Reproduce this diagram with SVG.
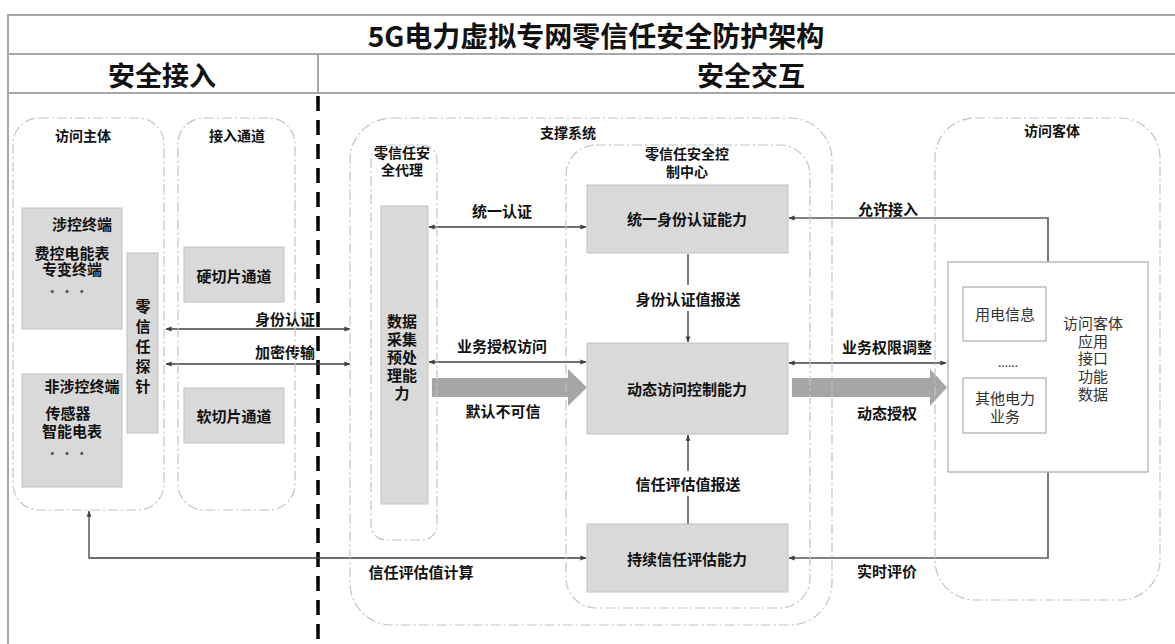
<svg xmlns="http://www.w3.org/2000/svg" width="1175" height="644" viewBox="0 0 1175 644">
<style>
text{font-family:"Noto Sans CJK SC","Noto Sans",sans-serif;dominant-baseline:central;text-anchor:middle;fill:#111}
.b{font-weight:700;font-size:14px}
.c{font-weight:700;font-size:15px}
.t{font-weight:700;font-size:15px}
.n{font-weight:400;font-size:15px;fill:#333}
.h{font-weight:700;font-size:27px}
.frame{stroke:#a8a8a8;stroke-width:2;fill:none}
.cont{fill:none;stroke:#c4c4c4;stroke-width:1.2;stroke-dasharray:10 3 2 3}
.g{fill:#d9d9d9;stroke:#c2c2c2;stroke-width:1}
.w{fill:#fff;stroke:#b3b3b3;stroke-width:1.3}
.ln{fill:none;stroke:#404040;stroke-width:1.3}
.lv{fill:none;stroke:#595959;stroke-width:1.6}
.blk{fill:#a6a6a6}
</style>
<defs>
<marker id="ah" viewBox="0 0 8 8" refX="7.5" refY="4" markerWidth="6" markerHeight="6" markerUnits="userSpaceOnUse" orient="auto-start-reverse">
<path d="M0,0.8 L8,4 L0,7.2 Z" fill="#404040"/>
</marker>
</defs>
<rect width="1175" height="644" fill="#fff"/>
<g id="frame">
<line class="frame" x1="8" y1="15" x2="1175" y2="15"/>
<line class="frame" x1="8" y1="54" x2="1175" y2="54"/>
<line class="frame" x1="8" y1="93" x2="1175" y2="93"/>
<line class="frame" x1="8" y1="14" x2="8" y2="644"/>
<line class="frame" x1="318" y1="54" x2="318" y2="93"/>
<line x1="318" y1="96" x2="318" y2="644" stroke="#000" stroke-width="3.5" stroke-dasharray="15 9"/>
<text class="h" x="596" y="35" style="font-size:28px">5G电力虚拟专网零信任安全防护架构</text>
<text class="h" x="162" y="74">安全接入</text>
<text class="h" x="751" y="74">安全交互</text>
</g>
<g id="connectors">
<polygon class="blk" points="432,378 568,378 568,369 587,387.5 568,406 568,397 432,397"/>
<polygon class="blk" points="792,378 930,378 930,369 947,387.5 930,406 930,397 792,397"/>
<line class="ln" x1="166" y1="329" x2="350" y2="329" marker-start="url(#ah)" marker-end="url(#ah)"/>
<line class="ln" x1="166" y1="364" x2="350" y2="364" marker-start="url(#ah)" marker-end="url(#ah)"/>
<line class="ln" x1="429" y1="227" x2="586" y2="227" marker-start="url(#ah)" marker-end="url(#ah)"/>
<line class="ln" x1="429" y1="362" x2="586" y2="362" marker-start="url(#ah)" marker-end="url(#ah)"/>
<line class="ln" x1="789" y1="363" x2="946" y2="363" marker-start="url(#ah)" marker-end="url(#ah)"/>
<line class="lv" x1="688" y1="254" x2="688" y2="285"/>
<line class="lv" x1="688" y1="311" x2="688" y2="342" marker-end="url(#ah)"/>
<line class="lv" x1="688" y1="524" x2="688" y2="496"/>
<line class="lv" x1="688" y1="471" x2="688" y2="435" marker-end="url(#ah)"/>
<polyline class="lv" points="1048,262 1048,218 789,218" marker-end="url(#ah)"/>
<polyline class="lv" points="1048,472 1048,558 789,558" marker-end="url(#ah)"/>
<polyline class="ln" points="89,511 89,558 586,558" marker-start="url(#ah)" marker-end="url(#ah)"/>
<text class="c" x="315" y="318" style="text-anchor:end">身份认证</text>
<text class="c" x="315" y="351" style="text-anchor:end">加密传输</text>
<text class="c" x="502" y="210">统一认证</text>
<text class="c" x="502" y="345">业务授权访问</text>
<text class="c" x="503" y="410">默认不可信</text>
<text class="c" x="688" y="298">身份认证值报送</text>
<text class="c" x="688" y="483">信任评估值报送</text>
<text class="c" x="421" y="571">信任评估值计算</text>
<text class="c" x="888" y="208">允许接入</text>
<text class="c" x="887" y="346">业务权限调整</text>
<text class="c" x="887" y="412">动态授权</text>
<text class="c" x="887" y="570">实时评价</text>
</g>
<g id="access-subject">
<rect class="cont" x="13" y="118" width="151" height="392" rx="26"/>
<text class="b" x="83" y="135">访问主体</text>
</g>
<g id="controlled-terminal">
<rect class="g" x="22" y="208" width="100" height="121"/>
<text class="t" x="82" y="223">涉控终端</text>
<text class="t" x="72" y="252">费控电能表<tspan x="72" dy="16">专变终端</tspan><tspan x="67" dy="23" style="font-size:12px;fill:#555">•  •  •</tspan></text>
</g>
<g id="noncontrolled-terminal">
<rect class="g" x="22" y="374" width="100" height="113"/>
<text class="t" x="82" y="385">非涉控终端</text>
<text class="t" x="68" y="412">传感器<tspan x="72" dy="18">智能电表</tspan><tspan x="67" dy="23" style="font-size:12px;fill:#555">•  •  •</tspan></text>
</g>
<g id="probe">
<rect class="g" x="127" y="253" width="31" height="180"/>
<text class="t" x="143" y="299" writing-mode="vertical-rl" style="text-anchor:start;letter-spacing:5px">零信任探针</text>
</g>
<g id="access-channel">
<rect class="cont" x="178" y="118" width="117" height="392" rx="26"/>
<text class="b" x="237" y="135">接入通道</text>
</g>
<g id="hard-slice">
<rect class="g" x="184" y="247" width="100" height="55"/>
<text class="t" x="234" y="275">硬切片通道</text>
</g>
<g id="soft-slice">
<rect class="g" x="184" y="388" width="100" height="55"/>
<text class="t" x="234" y="415">软切片通道</text>
</g>
<g id="support-system">
<rect class="cont" x="350" y="118" width="482" height="507" rx="42"/>
<text class="b" x="568" y="132">支撑系统</text>
</g>
<g id="zt-proxy">
<rect class="cont" x="371" y="145" width="66" height="395" rx="15"/>
<text class="b" x="402" y="152">零信任安<tspan x="402" dy="17">全代理</tspan></text>
</g>
<g id="data-collect">
<rect class="g" x="381" y="206" width="47" height="298"/>
<text class="t" x="402" y="320">数据<tspan x="402" dy="18">采集</tspan><tspan x="402" dy="18">预处</tspan><tspan x="402" dy="18">理能</tspan><tspan x="402" dy="18">力</tspan></text>
</g>
<g id="zt-control-center">
<rect class="cont" x="566" y="145" width="244" height="463" rx="30"/>
<text class="b" x="687" y="153">零信任安全控<tspan x="687" dy="18">制中心</tspan></text>
</g>
<g id="unified-auth">
<rect class="g" x="587" y="185" width="201" height="68"/>
<text class="t" x="687" y="218">统一身份认证能力</text>
</g>
<g id="dynamic-access">
<rect class="g" x="587" y="343" width="201" height="91"/>
<text class="t" x="687" y="388">动态访问控制能力</text>
</g>
<g id="trust-eval">
<rect class="g" x="587" y="524" width="201" height="68"/>
<text class="t" x="687" y="558">持续信任评估能力</text>
</g>
<g id="access-object">
<rect class="cont" x="935" y="118" width="225" height="482" rx="40"/>
<text class="b" x="1052" y="130">访问客体</text>
<rect class="w" x="948" y="262" width="200" height="210"/>
<rect class="w" x="963" y="287" width="83" height="54"/>
<text class="n" x="1005" y="313">用电信息</text>
<text class="n" x="1008" y="361" style="font-size:12px">......</text>
<rect class="w" x="963" y="378" width="83" height="55"/>
<text class="n" x="1005" y="397">其他电力<tspan x="1005" dy="18">业务</tspan></text>
<text class="n" x="1093" y="322">访问客体<tspan x="1093" dy="18">应用</tspan><tspan x="1093" dy="17">接口</tspan><tspan x="1093" dy="18">功能</tspan><tspan x="1093" dy="18">数据</tspan></text>
</g>
</svg>
